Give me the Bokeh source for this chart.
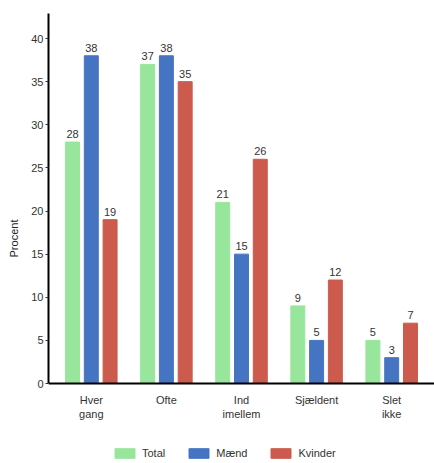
from bokeh.plotting import figure
from bokeh.models import ColumnDataSource, Range1d, FactorRange, Legend, LegendItem
from bokeh.transform import dodge
from bokeh.core.properties import value
from bokeh.embed import file_html
from bokeh.resources import INLINE

categories = ["Hver\ngang", "Ofte", "Ind\nimellem", "Sjældent", "Slet\nikke"]
total = [28, 37, 21, 9, 5]
maend = [38, 38, 15, 5, 3]
kvinder = [19, 35, 26, 12, 7]
series_names = ["Total", "Mænd", "Kvinder"]
yticks = [0, 5, 10, 15, 20, 25, 30, 35, 40]

colors = ["#98E69B", "#4575C2", "#CC5B4D"]
font = "Liberation Sans"
ytop = 42.9

src = ColumnDataSource(dict(
    cat=categories, total=total, maend=maend, kvinder=kvinder,
    total_s=[str(v) for v in total], maend_s=[str(v) for v in maend],
    kvinder_s=[str(v) for v in kvinder],
))

p = figure(width=434, height=463, output_backend="svg", toolbar_location=None,
           x_range=FactorRange(factors=categories, range_padding=0.028),
           y_range=Range1d(-9.27, ytop),
           min_border_left=48, min_border_top=13, min_border_right=0, min_border_bottom=0)

renderers = []
for key, off, col in zip(["total", "maend", "kvinder"], [-0.25, 0.0, 0.25], colors):
    r = p.vbar(x=dodge("cat", off, range=p.x_range), top=key, bottom=0, width=0.186,
               source=src, fill_color=col, line_color=col, line_width=1)
    renderers.append(r)
    p.text(x=dodge("cat", off, range=p.x_range), y=key, text=key + "_s", source=src,
           text_align="center", text_baseline="bottom", y_offset=-4,
           text_font=value(font), text_font_size="11px", text_color="#333333")

p.grid.visible = False
p.outline_line_color = None
p.background_fill_color = "white"

p.yaxis.ticker = yticks
p.yaxis.bounds = (0, ytop)
p.yaxis.axis_line_color = "black"
p.yaxis.axis_line_width = 2
p.yaxis.major_tick_out = 3
p.yaxis.major_tick_in = 0
p.yaxis.minor_tick_line_color = None
p.yaxis.major_tick_line_color = "#333333"
p.yaxis.major_label_text_font = font
p.yaxis.major_label_text_font_size = "11px"
p.yaxis.major_label_text_color = "#333333"
p.yaxis.major_label_standoff = 2
p.yaxis.axis_label = "Procent"
p.yaxis.axis_label_text_font = font
p.yaxis.axis_label_text_font_size = "11px"
p.yaxis.axis_label_text_font_style = "normal"
p.yaxis.axis_label_text_color = "#222222"
p.yaxis.axis_label_standoff = 8

p.xaxis.fixed_location = 0
p.xaxis.axis_line_color = "black"
p.xaxis.axis_line_width = 2
p.xaxis.major_tick_line_color = None
p.xaxis.minor_tick_line_color = None
p.xaxis.major_label_text_font = font
p.xaxis.major_label_text_font_size = "11px"
p.xaxis.major_label_text_color = "#333333"
p.xaxis.major_label_standoff = 4

legend = Legend(items=[LegendItem(label=n, renderers=[r]) for n, r in zip(series_names, renderers)],
                orientation="horizontal", location=(64, 4),
                glyph_width=25, glyph_height=12, label_standoff=5, spacing=21,
                label_text_font=font, label_text_font_size="11px", label_text_color="#333333",
                border_line_color=None, background_fill_alpha=0, padding=0, margin=0)
p.add_layout(legend)

open("out.html", "w").write(file_html(p, INLINE))
